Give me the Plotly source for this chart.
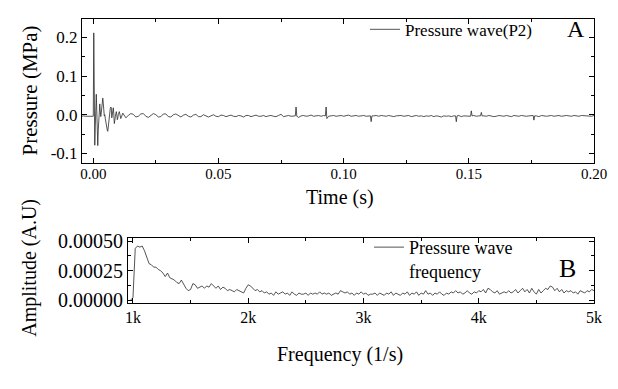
import plotly.graph_objects as go

# ---------------- Panel A: pressure wave (time in ms, pressure in kPa) ----------------
time_ms = [
    -4.5, -4.0, -3.0, -2.0, -1.0,
    0.0, 0.2, 0.4, 0.6, 0.8, 1.0, 1.2, 1.4, 1.6, 1.8,
    2.0, 2.2, 2.4, 2.6, 2.8, 3.0, 3.2, 3.4, 3.6, 3.8,
    4.0, 4.2, 4.4, 4.6, 4.8, 5.0, 5.2, 5.4, 5.6, 5.8,
    6.0, 6.2, 6.4, 6.6, 6.8, 7.0, 7.2, 7.4, 7.6, 7.8,
    8.0, 8.2, 8.4, 8.6, 8.8, 9.0, 9.2, 9.4, 9.6, 9.8,
    10.0, 10.2, 10.4, 10.6, 10.8, 11.0, 11.2, 11.4, 11.6, 11.8,
    12.0,
    13, 14, 15, 16, 17, 18, 19, 20, 21, 22,
    23, 24, 25, 26, 27, 28, 29, 30, 31, 32,
    33, 34, 35, 36, 37, 38, 39, 40, 41, 42,
    43, 44, 45, 46, 47, 48, 49, 50, 51, 52,
    53, 54, 55, 56, 57, 58, 59, 60, 61, 62,
    63, 64, 65, 66, 67, 68, 69, 70, 71, 72,
    73, 74, 75, 76, 77, 78, 79, 80, 80.7, 81, 81.3, 82,
    83, 84, 85, 86, 87, 88, 89, 90, 91, 92,
    92.7, 93, 93.3, 94, 95, 96, 97, 98, 99, 100, 101, 102,
    103, 104, 105, 106, 107, 108, 109, 110, 110.7, 111, 111.3, 112,
    113, 114, 115, 116, 117, 118, 119, 120, 121, 122,
    123, 124, 125, 126, 127, 128, 129, 130, 131, 132,
    133, 134, 135, 136, 137, 138, 139, 140, 141, 142,
    143, 144, 144.7, 145, 145.3, 146, 147, 148, 149, 150, 150.7, 151, 151.3, 152,
    153, 154, 154.7, 155, 155.3, 156, 157, 158, 159, 160, 161, 162,
    163, 164, 165, 166, 167, 168, 169, 170, 171, 172,
    173, 174, 175, 175.7, 176, 176.3, 177, 178, 179, 180, 181, 182,
    183, 184, 185, 186, 187, 188, 189, 190, 191, 192,
    193, 194, 195, 196, 197, 198, 199, 200,
]

pressure_kpa = [
    -4, -3, -4, -4, -3,
    -4, 212, -20, -79, -30, 20, 53, 10, -50, -80,
    -40, -10, 15, 28, 10, -5, 5, 20, 35, 43,
    30, 10, -3, 0, -10, -20, -28, -35, -40, -43,
    -30, -10, 0, 10, 16, 20, 18, -8, 5, 12,
    18, 2, -23, -15, -5, 3, 8, 0, -13, -8,
    0, 5, 8, 2, -5, -10, -7, -2, 2, 4,
    2,
    -8, -2, 3, 1, -6, -4, 2, 3, -4, -7,
    -1, 3, 0, -6, -5, 2, 2, -5, -6, 0,
    2, -3, -6, -1, 1, -4, -6, -1, 1, -5,
    -5, 0, -2, -6, -3, 0, -4, -5, -1, -2,
    -5, -3, -1, -4, -5, -2, -3, -6, -2, -2,
    -5, -3, -1, -4, -4, -2, -5, -3, -2, -4,
    -5, -2, 1, -5, -3, -2, -4, -3, -3, 20, -4, -7,
    -3, -2, -4, -3, -1, -4, -3, -2, -4, -2,
    -3, 20, -10, -4, -3, -2, -4, -3, -2, -4, -3, -1,
    -4, -3, -2, -4, -3, -2, -4, -3, -3, -18, -3, -3,
    -2, -4, -2, -3, -4, -2, -3, -5, -3, -2,
    -2, -4, -3, -2, -5, -3, -2, -4, -3, -5,
    -3, -4, -2, -5, -3, -4, -6, -3, -4, -3,
    -5, -3, -3, -18, -3, -2, -5, -3, -4, -4, -4, 10, -3, -2,
    -4, -3, -3, 6, -3, -3, -4, -2, -3, -5, -4, -2,
    -3, -4, -2, -3, -5, -2, -3, -4, -2, -3,
    -4, -3, -2, -2, -14, -3, -3, -5, -2, -3, -4, -3,
    -2, -4, -3, -2, -4, -3, -2, -3, -4, -2,
    -3, -4, -2, -3, -2, -3, -4, -2,
]

# ---------------- Panel B: spectrum (frequency in Hz, amplitude in 1e-5 A.U) ----------------
freq_hz = [
    980, 1000, 1020, 1040, 1060, 1080, 1100, 1120, 1140, 1160,
    1180, 1200, 1220, 1240, 1260, 1280, 1300, 1320, 1340, 1360,
    1380, 1400, 1420, 1440, 1460, 1480, 1500, 1520, 1540, 1560,
    1580, 1600, 1620, 1640, 1660, 1680, 1700, 1720, 1740, 1760,
    1780, 1800, 1820, 1840, 1860, 1880, 1900, 1920, 1940, 1960,
    1980, 2000, 2020, 2040, 2060, 2080, 2100, 2120, 2140, 2160,
    2180, 2200, 2220, 2240, 2260, 2280, 2300, 2320, 2340, 2360,
    2380, 2400, 2420, 2440, 2460, 2480, 2500, 2520, 2540, 2560,
    2580, 2600, 2620, 2640, 2660, 2680, 2700, 2720, 2740, 2760,
    2780, 2800, 2820, 2840, 2860, 2880, 2900, 2920, 2940, 2960,
    2980, 3000, 3020, 3040, 3060, 3080, 3100, 3120, 3140, 3160,
    3180, 3200, 3220, 3240, 3260, 3280, 3300, 3320, 3340, 3360,
    3380, 3400, 3420, 3440, 3460, 3480, 3500, 3520, 3540, 3560,
    3580, 3600, 3620, 3640, 3660, 3680, 3700, 3720, 3740, 3760,
    3780, 3800, 3820, 3840, 3860, 3880, 3900, 3920, 3940, 3960,
    3980, 4000, 4020, 4040, 4060, 4080, 4100, 4120, 4140, 4160,
    4180, 4200, 4220, 4240, 4260, 4280, 4300, 4320, 4340, 4360,
    4380, 4400, 4420, 4440, 4460, 4480, 4500, 4520, 4540, 4560,
    4580, 4600, 4620, 4640, 4660, 4680, 4700, 4720, 4740, 4760,
    4780, 4800, 4820, 4840, 4860, 4880, 4900, 4920, 4940, 4960,
    4980, 5000,
]

amplitude_e5 = [
    0, 2, 44, 46, 45, 46, 42, 36, 31, 30,
    28, 28, 26, 25, 23, 20, 23, 19, 18, 17,
    15, 14, 17, 13, 10, 8, 9, 14, 13, 10,
    11, 12, 10, 12, 11, 14, 12, 10, 12, 9,
    11, 10, 8, 9, 8, 7, 9, 8, 7, 6,
    10, 13, 12, 10, 8, 9, 7, 8, 6, 7,
    5, 6, 4, 7, 5, 6, 7, 5, 6, 4,
    7, 5, 4, 6, 5, 5, 6, 4, 6, 5,
    6, 5, 7, 5, 6, 5, 6, 4, 5, 6,
    5, 8, 7, 6, 7, 5, 6, 4, 6, 5,
    7, 5, 6, 4, 5, 5, 6, 4, 6, 5,
    4, 6, 5, 7, 4, 6, 5, 4, 6, 5,
    7, 4, 6, 5, 7, 4, 6, 5, 8, 5,
    6, 4, 6, 5, 7, 5, 4, 6, 5, 7,
    6, 8, 6, 7, 5, 6, 8, 6, 5, 7,
    6, 8, 7, 9, 6, 10, 9, 7, 6, 8,
    5, 6, 7, 6, 8, 6, 7, 9, 6, 8,
    10, 7, 9, 6, 10, 7, 5, 9, 6, 8,
    10, 9, 12, 11, 8, 10, 7, 9, 6, 8,
    7, 8, 6, 7, 5, 8, 7, 6, 8, 7,
    9, 8,
]

time_ticks = [0.0, 0.05, 0.10, 0.15, 0.20]
time_tick_labels = ["0.00", "0.05", "0.10", "0.15", "0.20"]
pressure_ticks = [-0.1, 0.0, 0.1, 0.2]
pressure_tick_labels = ["-0.1", "0.0", "0.1", "0.2"]
freq_ticks = [1000, 2000, 3000, 4000, 5000]
freq_tick_labels = ["1k", "2k", "3k", "4k", "5k"]
amp_ticks = [0.0, 0.00025, 0.00050]
amp_tick_labels = ["0.00000", "0.00025", "0.00050"]

assert len(time_ms) == len(pressure_kpa), (len(time_ms), len(pressure_kpa))
assert len(freq_hz) == len(amplitude_e5)

t_s = [v / 1000.0 for v in time_ms]
p_mpa = [v / 1000.0 for v in pressure_kpa]
amp = [v * 1e-5 for v in amplitude_e5]

FONT = "Liberation Serif"
W, H = 618, 389
ML, MR, MT, MB = 82, 24, 13, 86
PW, PH = W - ML - MR, H - MT - MB


def px(x):
    return (x - ML) / PW


def py(y):
    return (H - MB - y) / PH


def tf(size):
    return dict(family=FONT, size=size, color="black")


fig = go.Figure()
fig.add_trace(go.Scatter(
    x=t_s, y=p_mpa, mode="lines", name="Pressure wave(P2)",
    line=dict(color="#2a2a2a", width=0.8), xaxis="x", yaxis="y",
    legend="legend",
))
fig.add_trace(go.Scatter(
    x=freq_hz, y=amp, mode="lines", name="Pressure wave<br>frequency",
    line=dict(color="#2a2a2a", width=0.8), xaxis="x2", yaxis="y2",
    legend="legend2",
))

axis_common = dict(
    showline=True, linecolor="black", linewidth=1, mirror="ticks",
    ticks="inside", ticklen=5, tickwidth=1, tickcolor="black",
    showgrid=False, zeroline=False,
)
minor_common = dict(ticks="inside", ticklen=3, tickcolor="black", tickwidth=1)

top_domain = [py(160), 1.0]
bot_domain = [0.0, py(237)]

fig.update_layout(
    width=W, height=H,
    margin=dict(l=ML, r=MR, t=MT, b=MB),
    paper_bgcolor="white", plot_bgcolor="white",
    font=tf(16),
    xaxis=dict(
        **axis_common, domain=[0, 1], anchor="y",
        range=[-0.0045, 0.2], tickmode="array",
        tickvals=time_ticks, ticktext=time_tick_labels, tickfont=tf(15),
        ticklabelstandoff=-3,
        minor=dict(**minor_common, tickvals=[0.025, 0.075, 0.125, 0.175]),
    ),
    yaxis=dict(
        **axis_common, domain=top_domain, anchor="x",
        range=[-0.125, 0.248], tickmode="array",
        tickvals=pressure_ticks, ticktext=pressure_tick_labels, tickfont=tf(17),
        minor=dict(**minor_common, tickvals=[-0.05, 0.05, 0.15]),
    ),
    xaxis2=dict(
        **axis_common, domain=[px(128), 1], anchor="y2",
        range=[957, 5000], tickmode="array",
        tickvals=freq_ticks, ticktext=freq_tick_labels, tickfont=tf(16),
        minor=dict(**minor_common, tickvals=[1500, 2500, 3500, 4500]),
    ),
    yaxis2=dict(
        **axis_common, domain=bot_domain, anchor="x2",
        range=[-0.000025, 0.000525], tickmode="array",
        tickvals=amp_ticks, ticktext=amp_tick_labels, tickfont=tf(20),
        minor=dict(**minor_common, tickvals=[0.000125, 0.000375]),
    ),
    legend=dict(
        x=px(365), y=py(24), xanchor="left", yanchor="middle",
        bgcolor="rgba(0,0,0,0)", borderwidth=0,
        font=tf(17), itemwidth=30, tracegroupgap=0,
    ),
    legend2=dict(
        x=px(369), y=py(258), xanchor="left", yanchor="middle",
        bgcolor="rgba(0,0,0,0)", borderwidth=0, valign="top",
        font=tf(18), itemwidth=30, tracegroupgap=0,
    ),
    showlegend=True,
    annotations=[
        dict(text="Pressure (MPa)", x=px(30), y=py(86), xref="paper", yref="paper",
             textangle=-90, showarrow=False, xanchor="center", yanchor="middle",
             font=tf(21)),
        dict(text="Time (s)", x=px(340), y=py(195), xref="paper", yref="paper",
             showarrow=False, xanchor="center", yanchor="middle", font=tf(20)),
        dict(text="Amplitude (A.U)", x=px(30), y=py(267), xref="paper", yref="paper",
             textangle=-90, showarrow=False, xanchor="center", yanchor="middle",
             font=tf(20)),
        dict(text="Frequency (1/s)", x=px(340), y=py(356), xref="paper", yref="paper",
             showarrow=False, xanchor="center", yanchor="middle", font=tf(20)),
        dict(text="A", x=px(576), y=py(23), xref="paper", yref="paper",
             showarrow=False, xanchor="center", yanchor="middle", font=tf(24)),
        dict(text="B", x=px(567), y=py(268), xref="paper", yref="paper",
             showarrow=False, xanchor="center", yanchor="middle", font=tf(26)),
    ],
)

fig.write_html(
    "out.html",
    config={"displayModeBar": False},
    post_script="document.body.style.margin='0';document.body.style.padding='0';",
)
